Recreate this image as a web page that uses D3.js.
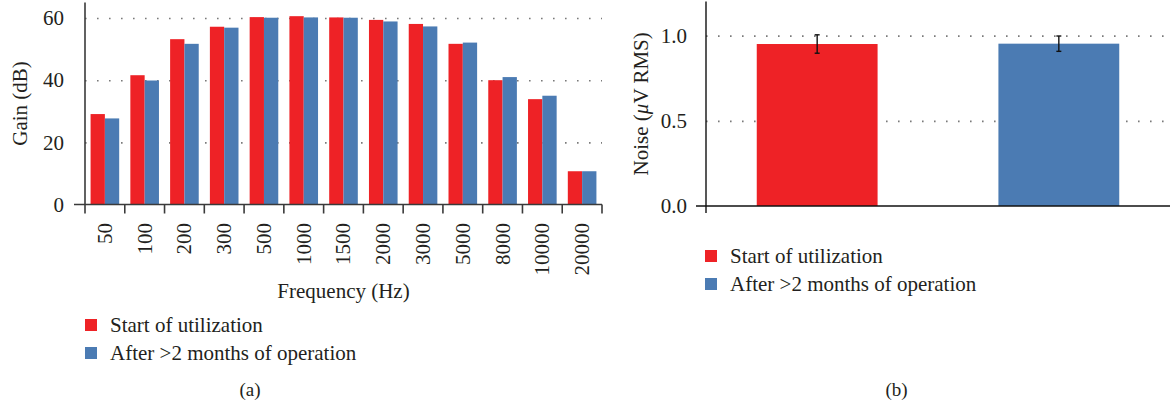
<!DOCTYPE html>
<html>
<head>
<meta charset="utf-8">
<script src="https://cdn.jsdelivr.net/npm/d3@7"></script>
<style>
  body { margin: 0; background: #fff; }
  svg { display: block; }
  text { font-family: "Liberation Serif", "DejaVu Serif", serif; fill: #231f20; }
  .grid line { stroke: #7a7a7a; stroke-width: 1.6; stroke-dasharray: 1.6 10.4; }
  .grid path { display: none; }
</style>
</head>
<body>
<div id="chart"></div>
<script>
// Panel (a): gain per frequency
const freqLabels = ['50', '100', '200', '300', '500', '1000', '1500', '2000', '3000', '5000', '8000', '10000', '20000'];
const gainStart = [29.1, 41.6, 53.2, 57.2, 60.3, 60.6, 60.2, 59.4, 58.1, 51.7, 40.0, 33.9, 10.7];
const gainAfter = [27.7, 39.9, 51.7, 56.9, 60.1, 60.2, 60.1, 58.9, 57.3, 52.1, 41.0, 35.0, 10.7];
const gainTicks = [0, 20, 40, 60];

// Panel (b): noise
const noiseMean = [0.951, 0.953];
const noiseErr = [0.054, 0.045];
const noiseTicks = [0, 0.5, 1.0];

const seriesKeys = ['start', 'after'];
const seriesNames = ['Start of utilization', 'After >2 months of operation'];
const colors = {start: '#ee2226', after: '#4b7bb3'};

const W = 1171, H = 408;
const fontSize = 21;
const axisColor = '#3a3a3a';

const svg = d3.select('#chart').append('svg')
    .attr('width', W)
    .attr('height', H);

// ---------- panel (a) ----------
const a = {left: 85, right: 602, top: 2.5, bottom: 204.5};

const x0 = d3.scaleBand()
    .domain(freqLabels)
    .range([a.left, a.right])
    .padding(0);

const x1 = d3.scaleBand()
    .domain(seriesKeys)
    .range([0, x0.bandwidth()])
    .paddingInner(0)
    .paddingOuter(0.39);

const yA = d3.scaleLinear()
    .domain([0, 65])
    .range([a.bottom, a.top]);

const gA = svg.append('g');

// dotted gridlines
gA.append('g')
    .attr('class', 'grid')
    .attr('transform', `translate(${a.left},0)`)
    .call(d3.axisLeft(yA).tickValues(gainTicks.slice(1)).tickSize(-(a.right - a.left)).tickFormat(''));

const rows = freqLabels.map((f, i) => ({freq: f, start: gainStart[i], after: gainAfter[i]}));

gA.append('g')
  .selectAll('g')
  .data(rows)
  .join('g')
    .attr('transform', d => `translate(${x0(d.freq)},0)`)
  .selectAll('rect')
  .data(d => seriesKeys.map(k => ({key: k, value: d[k]})))
  .join('rect')
    .attr('x', d => x1(d.key))
    .attr('y', d => yA(d.value))
    .attr('width', x1.bandwidth())
    .attr('height', d => yA(0) - yA(d.value))
    .attr('fill', d => colors[d.key]);

// y tick labels
const yAxisA = gA.append('g')
    .attr('transform', `translate(${a.left},0)`)
    .call(d3.axisLeft(yA).tickValues(gainTicks).tickSize(0).tickPadding(21).tickFormat(d3.format('d')));
yAxisA.select('.domain').remove();
yAxisA.selectAll('text').style('font-size', fontSize + 'px').style('font-family', null);

// x tick labels, rotated
const xAxisA = gA.append('g')
    .attr('transform', `translate(0,${a.bottom})`)
    .call(d3.axisBottom(x0).tickSize(0));
xAxisA.select('.domain').remove();
xAxisA.selectAll('text')
    .style('font-size', fontSize + 'px')
    .style('font-family', null)
    .attr('text-anchor', 'end')
    .attr('transform', 'rotate(-90)')
    .attr('x', -18.5)
    .attr('y', 0)
    .attr('dy', '0.33em');

// axis lines (cross style)
gA.append('line')
    .attr('x1', a.left - 11).attr('x2', a.right)
    .attr('y1', yA(0)).attr('y2', yA(0))
    .attr('stroke', axisColor).attr('stroke-width', 1.6);
gA.append('line')
    .attr('x1', a.left).attr('x2', a.left)
    .attr('y1', a.top).attr('y2', yA(0) + 9)
    .attr('stroke', axisColor).attr('stroke-width', 1.6);

// category boundary ticks
const bounds = freqLabels.map(f => x0(f)).concat([a.right]);
gA.append('g')
  .selectAll('line')
  .data(bounds.slice(1))
  .join('line')
    .attr('x1', d => d).attr('x2', d => d)
    .attr('y1', yA(0)).attr('y2', yA(0) + 9)
    .attr('stroke', axisColor).attr('stroke-width', 1.6);

gA.append('text')
    .attr('transform', `translate(20,${(a.top + a.bottom) / 2}) rotate(-90)`)
    .attr('text-anchor', 'middle')
    .attr('dy', '0.35em')
    .style('font-size', fontSize + 'px')
    .text('Gain (dB)');

gA.append('text')
    .attr('x', (a.left + a.right) / 2)
    .attr('y', 298)
    .attr('text-anchor', 'middle')
    .style('font-size', fontSize + 'px')
    .text('Frequency (Hz)');

// ---------- panel (b) ----------
const b = {left: 706, right: 1170, top: 1.6, bottom: 206};

const xB = d3.scaleBand()
    .domain(seriesKeys)
    .range([b.left, b.right])
    .paddingInner(0.5)
    .paddingOuter(0.21);

const yB = d3.scaleLinear()
    .domain([0, 1.2])
    .range([b.bottom, b.top]);

const gB = svg.append('g');

gB.append('g')
    .attr('class', 'grid')
    .attr('transform', `translate(${b.left},0)`)
    .call(d3.axisLeft(yB).tickValues(noiseTicks.slice(1)).tickSize(-(b.right - b.left)).tickFormat(''));

const noiseRows = seriesKeys.map((k, i) => ({key: k, mean: noiseMean[i], err: noiseErr[i]}));

gB.append('g')
  .selectAll('rect')
  .data(noiseRows)
  .join('rect')
    .attr('x', d => xB(d.key))
    .attr('y', d => yB(d.mean))
    .attr('width', xB.bandwidth())
    .attr('height', d => yB(0) - yB(d.mean))
    .attr('fill', d => colors[d.key]);

// error bars
const eb = gB.append('g')
    .attr('stroke', '#111')
    .attr('stroke-width', 1.4)
  .selectAll('g')
  .data(noiseRows)
  .join('g')
    .attr('transform', d => `translate(${xB(d.key) + xB.bandwidth() / 2},0)`);
eb.append('line')
    .attr('y1', d => yB(d.mean - d.err))
    .attr('y2', d => yB(d.mean + d.err));
eb.append('line')
    .attr('x1', -2.5).attr('x2', 2.5)
    .attr('y1', d => yB(d.mean + d.err)).attr('y2', d => yB(d.mean + d.err));
eb.append('line')
    .attr('x1', -2.5).attr('x2', 2.5)
    .attr('y1', d => yB(d.mean - d.err)).attr('y2', d => yB(d.mean - d.err));

const yAxisB = gB.append('g')
    .attr('transform', `translate(${b.left},0)`)
    .call(d3.axisLeft(yB).tickValues(noiseTicks).tickSize(0).tickPadding(19).tickFormat(d3.format('.1f')));
yAxisB.select('.domain').remove();
yAxisB.selectAll('text').style('font-size', fontSize + 'px').style('font-family', null);

gB.append('line')
    .attr('x1', b.left - 10).attr('x2', b.right)
    .attr('y1', yB(0)).attr('y2', yB(0))
    .attr('stroke', '#111').attr('stroke-width', 1.4);
gB.append('line')
    .attr('x1', b.left).attr('x2', b.left)
    .attr('y1', b.top).attr('y2', yB(0) + 7)
    .attr('stroke', '#111').attr('stroke-width', 1.4);

const noiseTitle = gB.append('text')
    .attr('transform', `translate(641,${(b.top + b.bottom) / 2}) rotate(-90)`)
    .attr('text-anchor', 'middle')
    .attr('dy', '0.35em')
    .style('font-size', fontSize + 'px');
noiseTitle.append('tspan').text('Noise (');
noiseTitle.append('tspan').style('font-style', 'italic').text('\u03bc');
noiseTitle.append('tspan').text('V RMS)');

// ---------- legends ----------
function legend(x, y) {
  const g = svg.append('g').attr('transform', `translate(${x},${y})`);
  const item = g.selectAll('g')
      .data(seriesKeys)
      .join('g')
      .attr('transform', (d, i) => `translate(0,${i * 28})`);
  item.append('rect')
      .attr('x', 0).attr('y', -12.5)
      .attr('width', 12).attr('height', 12)
      .attr('fill', d => colors[d]);
  item.append('text')
      .attr('x', 25)
      .attr('y', 0)
      .style('font-size', fontSize + 'px')
      .text((d, i) => seriesNames[i]);
}
legend(85, 331.5);
legend(705, 262.5);

// panel captions
svg.append('text')
    .attr('x', 250).attr('y', 396)
    .attr('text-anchor', 'middle')
    .style('font-size', '19px')
    .text('(a)');
svg.append('text')
    .attr('x', 896.5).attr('y', 396)
    .attr('text-anchor', 'middle')
    .style('font-size', '19px')
    .text('(b)');
</script>
</body>
</html>
